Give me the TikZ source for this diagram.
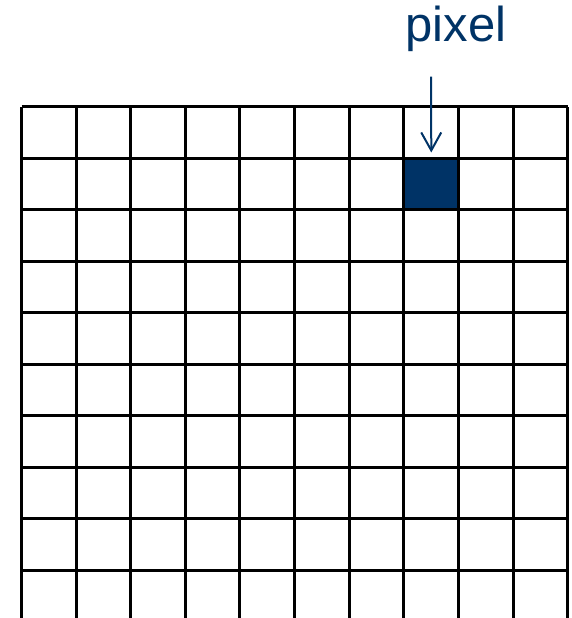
\documentclass[tikz,border=0pt]{standalone}
\usepackage{fontspec}
\setmainfont{Liberation Sans}
\usetikzlibrary{arrows.meta,positioning}
\usepackage{xcolor}
\definecolor{navy}{RGB}{0,51,102}
\tikzset{
  gridline/.style={line width=3pt,black},
  cellfill/.style={fill=navy,draw=none,inner sep=0pt,
    minimum width=54.62pt,minimum height=51.5pt,anchor=north west},
  ptr/.style={-{Straight Barb[length=18pt,width=20pt]},line width=2pt,navy},
  tag/.style={text=navy,font=\fontsize{49}{55}\selectfont,inner sep=0pt,anchor=base},
}

\begin{document}
\begin{tikzpicture}[x=1pt,y=1pt]
\useasboundingbox (0,0) rectangle (572,618);
\clip (0,0) rectangle (572,618);
\node[cellfill] (px) at (403.84,459.5) {};
% grid of pixels
\foreach \i in {0,...,10}
  \draw[gridline] (21.5+54.62*\i,-5) -- (21.5+54.62*\i,511);
\foreach \j in {0,...,9}
  \draw[gridline] (21.5,511-51.5*\j) -- (567.7,511-51.5*\j);
\node[tag] (lbl) at (456,576.3) {pixel};
\coordinate (tail) at (431.1,541.3);
\draw[ptr,shorten >=6pt] (tail) -- (px);
\end{tikzpicture}
\end{document}
